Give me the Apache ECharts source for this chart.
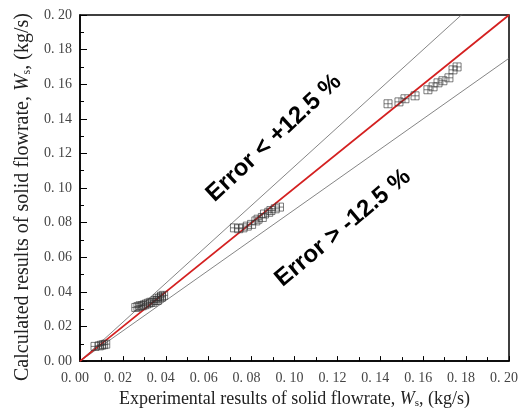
<!DOCTYPE html>
<html>
<head>
<meta charset="utf-8">
<script src="https://cdn.jsdelivr.net/npm/echarts@6/dist/echarts.min.js"></script>
<style>
  html, body { margin: 0; padding: 0; background: #fff; }
  #chart { width: 524px; height: 414px; }
</style>
</head>
<body>
<div id="chart"></div>
<script>
// measured points (experimental, calculated)
const expFlow = [
  0.007, 0.009, 0.010, 0.011, 0.012,
  0.026, 0.027, 0.028, 0.029, 0.030, 0.031, 0.032, 0.033, 0.034, 0.035, 0.036, 0.036, 0.037, 0.038, 0.038, 0.039,
  0.072, 0.074, 0.076, 0.078, 0.080, 0.082, 0.083, 0.085, 0.086, 0.088, 0.089, 0.091, 0.093,
  0.1436, 0.1487, 0.1515, 0.1562, 0.1622, 0.1646, 0.1669, 0.1692, 0.1720, 0.1739, 0.1758
];
const calcFlow = [
  0.0085, 0.0088, 0.0092, 0.0095, 0.0098,
  0.031, 0.0315, 0.032, 0.032, 0.0325, 0.033, 0.0335, 0.034, 0.034, 0.035, 0.035, 0.036, 0.0365, 0.037, 0.0375, 0.038,
  0.077, 0.0765, 0.077, 0.078, 0.079, 0.081, 0.082, 0.083, 0.085, 0.086, 0.087, 0.088, 0.089,
  0.1487, 0.1498, 0.1516, 0.1533, 0.1568, 0.1585, 0.1608, 0.1620, 0.1637, 0.1683, 0.1700
];
// reference lines: y = x and +/- 12.5 % error bands
const lineParity = [[0, 0], [0.2, 0.2]];
const lineUpper = [[0, 0], [0.2, 0.225]];
const lineLower = [[0, 0], [0.2, 0.175]];

const points = expFlow.map((x, i) => [x, calcFlow[i]]);

const chart = echarts.init(document.getElementById('chart'));

const tickFmt = v => v.toFixed(2).replace('.', '. ');
function nameRich(size) {
  return {
    i: { fontStyle: 'italic', fontFamily: 'Liberation Serif', fontSize: size, color: '#222' },
    sub: { fontFamily: 'Liberation Serif', fontSize: Math.round(size * 0.6), color: '#222', padding: [9, 0, 0, 0] }
  };
}

const option = {
  animation: false,
  grid: {
    left: 80, right: 15, top: 15, bottom: 52,
    show: true, borderColor: '#000', borderWidth: 1.5
  },
  xAxis: {
    type: 'value', min: 0, max: 0.2, interval: 0.02,
    splitLine: { show: false },
    axisLine: { lineStyle: { color: '#000', width: 1.5 } },
    axisTick: { inside: true, length: 5, lineStyle: { color: '#000' } },
    minorTick: { show: true, splitNumber: 2, length: 4, lineStyle: { color: '#000' } },
    axisLabel: {
      formatter: tickFmt, margin: 10, padding: [0, 10, 0, 0],
      fontFamily: 'Liberation Serif', fontSize: 14, color: '#444'
    },
    name: 'Experimental results of solid flowrate, {i|W}{sub|s}, (kg/s)',
    nameLocation: 'middle', nameGap: 27,
    nameTextStyle: { fontFamily: 'Liberation Serif', fontSize: 18, color: '#222', rich: nameRich(18) }
  },
  yAxis: {
    type: 'value', min: 0, max: 0.2, interval: 0.02,
    splitLine: { show: false },
    axisLine: { lineStyle: { color: '#000', width: 1.5 } },
    axisTick: { inside: true, length: 7, lineStyle: { color: '#000' } },
    minorTick: { show: true, splitNumber: 2, length: 4, lineStyle: { color: '#000' } },
    axisLabel: {
      formatter: tickFmt, margin: 8,
      fontFamily: 'Liberation Serif', fontSize: 14, color: '#444'
    },
    name: 'Calculated results of solid flowrate, {i|W}{sub|s}, (kg/s)',
    nameLocation: 'middle', nameGap: 45,
    nameTextStyle: {
      fontFamily: 'Liberation Serif', fontSize: 20, color: '#222',
      padding: [0, 18, 0, 0], rich: nameRich(20)
    }
  },
  series: [
    {
      type: 'line', data: lineUpper, symbol: 'none', clip: true,
      lineStyle: { color: '#666', width: 0.8 }, z: 1
    },
    {
      type: 'line', data: lineLower, symbol: 'none', clip: true,
      lineStyle: { color: '#666', width: 0.8 }, z: 1
    },
    {
      type: 'line', data: lineParity, symbol: 'none', clip: true,
      lineStyle: { color: '#d42020', width: 1.8 }, z: 2
    },
    {
      type: 'scatter', data: points,
      symbol: 'path://M0,0L10,0L10,10L0,10Z M5,0L5,10 M0,5L10,5',
      symbolSize: 8,
      itemStyle: { color: 'rgba(0,0,0,0)', borderColor: '#333', borderWidth: 0.8 },
      z: 3
    }
  ],
  graphic: [
    {
      type: 'text', x: 274, y: 138, rotation: 43 * Math.PI / 180,
      style: {
        text: 'Error < +12.5 %', fill: '#000',
        font: 'bold 24px "Liberation Sans"', textAlign: 'center', textVerticalAlign: 'middle'
      }
    },
    {
      type: 'text', x: 343, y: 228, rotation: 40 * Math.PI / 180,
      style: {
        text: 'Error > -12.5 %', fill: '#000',
        font: 'bold 24px "Liberation Sans"', textAlign: 'center', textVerticalAlign: 'middle'
      }
    }
  ]
};

chart.setOption(option);
</script>
</body>
</html>
